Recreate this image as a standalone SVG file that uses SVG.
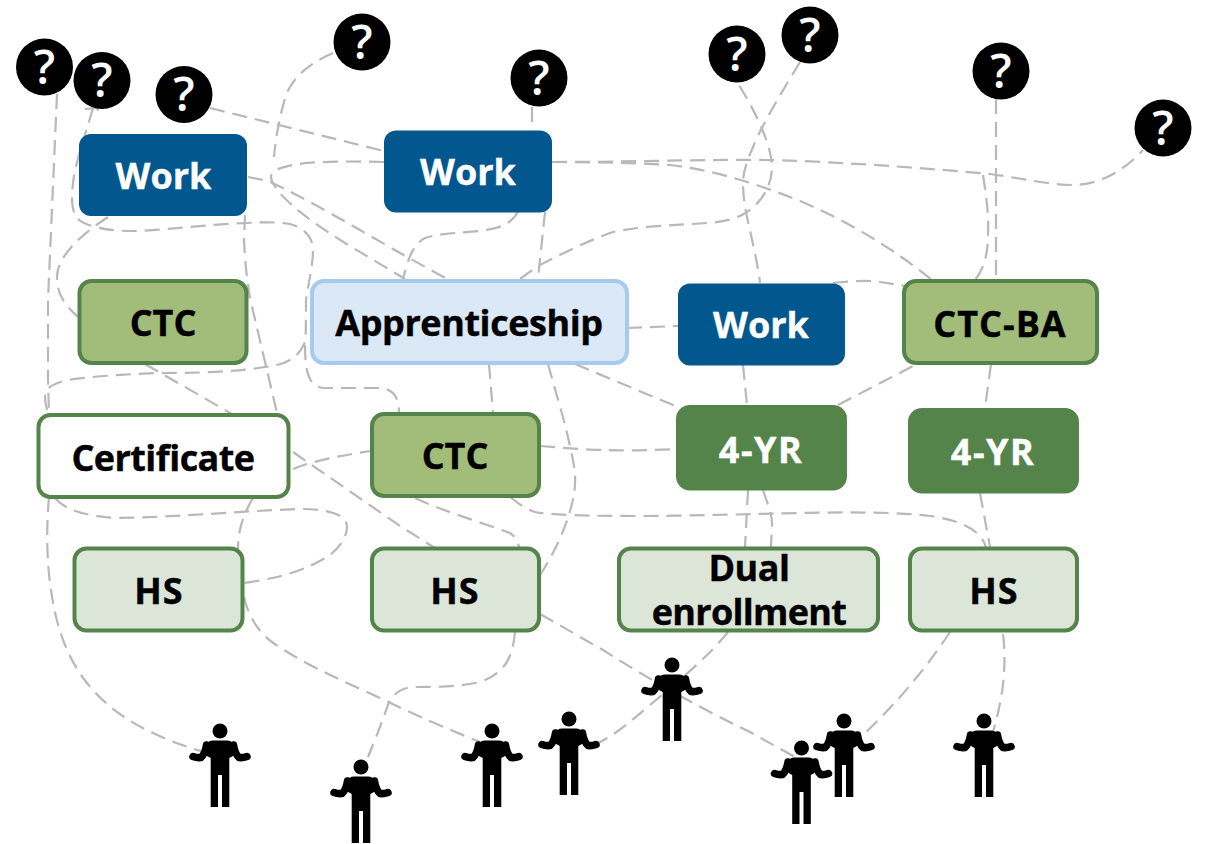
<svg xmlns="http://www.w3.org/2000/svg" width="1205" height="844" viewBox="0 0 1205 844">
<style>
.c{fill:none;stroke:#b8b8b8;stroke-width:2.2;stroke-dasharray:15 8}
.t{font-family:"Open Sans","Noto Sans",sans-serif;font-weight:700;font-size:36px;text-anchor:middle;fill:#000;stroke:#000;stroke-width:.4}
.w{fill:#fff;stroke:#fff}
.q{font-family:"Open Sans","Noto Sans",sans-serif;font-weight:600;font-size:47px;text-anchor:middle;fill:#fff}
.blue{fill:#02578e}
.dk{fill:#55844a}
.mid{fill:#a2bd7a;stroke:#55844a;stroke-width:4}
.lt{fill:#dbe6d8;stroke:#55844a;stroke-width:4}
.wh{fill:#fff;stroke:#55844a;stroke-width:4}
.ap{fill:#dbe8f6;stroke:#a6cbee;stroke-width:4}
</style>
<defs>
<g id="qm"><circle r="28.5" fill="#000"/><text class="q" y="16.5">?</text></g>
<g id="person">
<circle r="7.5" cy="0" fill="#000"/>
<path d="M-9.3,76V42H-2V76H-9.3M2,76V42H9.3V76H2M-9.3,44V27L-13,25Q-16,20-14,14Q-12,9.5-7,9.5H7Q12,9.5 14,14Q16,20 13,25L9.3,27V44Z" fill="#000"/>
<path d="M-13.5,14Q-15,23-19,26.5Q-23,27-27,25.5M13.5,14Q15,23 19,26.5Q23,27 27,25.5" fill="none" stroke="#000" stroke-width="7.5" stroke-linecap="round"/>
</g>
</defs>
<g id="connectors">
<path class="c" d="M57,94L48,300V380L49,414"/>
<path class="c" d="M49,497C46,530 47,565 51,590C62,670 100,722 204,752"/>
<path class="c" d="M93,108C84,140 72,170 72,197C72,212 76,220 84,223C100,230 118,231 133,231C170,230 210,224 247,223C265,222 278,222 290,224C305,228 313,238 313,250C313,265 309,280 306,300C306,320 306,335 305,342C300,355 290,362 277,365C240,372 200,373 160,373C130,374 95,376 67,380C52,384 45,388 45,397C45,404 47,410 49,415"/>
<path class="c" d="M305,345C305,370 308,388 325,388H377C392,388 399,395 399,413"/>
<path class="c" d="M85,109L97,108L100,114"/>
<path class="c" d="M108,217C85,232 57,255 57,277C57,295 65,305 78,317"/>
<path class="c" d="M333,53C305,65 292,80 286,95C280,115 276,135 274,157"/>
<path class="c" d="M210,108L384,151"/>
<path class="c" d="M384,162C340,161 275,160 271,176C271,190 300,215 345,243C365,255 385,267 405,279"/>
<path class="c" d="M248,177L268,181C300,195 360,230 400,253L447,279"/>
<path class="c" d="M532,107V130"/>
<path class="c" d="M518,212C510,225 500,228 480,231C460,233 440,233 425,238C412,245 408,260 403,279"/>
<path class="c" d="M545,212L538,279"/>
<path class="c" d="M520,279L538,266C565,252 590,240 613,232C640,226 680,225 707,223C725,222 738,218 747,212C762,202 772,185 772,167C772,148 758,115 737,82"/>
<path class="c" d="M800,62C780,95 762,125 753,147C745,165 743,175 743,183C743,195 745,208 747,217C752,240 758,265 760,283"/>
<path class="c" d="M552,162C650,162 730,158 800,161C870,164 935,169 990,174C1020,178 1050,185 1073,185C1100,185 1125,170 1143,150"/>
<path class="c" d="M552,162C590,162 640,163 670,165C715,170 760,185 800,201C850,222 895,250 932,280"/>
<path class="c" d="M996,99V280"/>
<path class="c" d="M983,175C986,195 989,215 988,233C988,252 985,268 975,280"/>
<path class="c" d="M833,283C850,281 870,280 880,282L905,286"/>
<path class="c" d="M627,328L678,326"/>
<path class="c" d="M489,364L493,413"/>
<path class="c" d="M548,364C555,390 562,412 567,433C572,455 576,470 575,483C575,505 560,545 540,575"/>
<path class="c" d="M575,364L680,408"/>
<path class="c" d="M743,365L747,405"/>
<path class="c" d="M540,446C565,448 590,450 607,450C630,451 655,450 676,449"/>
<path class="c" d="M838,405L915,365"/>
<path class="c" d="M748,490L745,547"/>
<path class="c" d="M763,490C768,505 772,515 772,523L771,547"/>
<path class="c" d="M510,497C520,505 528,510 535,512C550,515 590,516 633,516C690,516 750,514 800,513C850,512 900,512 930,516C960,520 982,530 986,548"/>
<path class="c" d="M991,364L985,408"/>
<path class="c" d="M980,493L990,547"/>
<path class="c" d="M145,364L232,414"/>
<path class="c" d="M293,452L400,526L435,548"/>
<path class="c" d="M245,215L244,240C245,262 247,280 250,298L277,413"/>
<path class="c" d="M293,469C315,460 345,455 370,451"/>
<path class="c" d="M55,498C65,510 85,516 117,518C180,517 240,511 300,509C330,509 347,515 347,527C347,540 335,552 327,557C305,570 285,577 244,583"/>
<path class="c" d="M253,498C243,515 238,530 238,549"/>
<path class="c" d="M415,498C440,510 480,522 510,533C516,537 518,542 519,547"/>
<path class="c" d="M244,597C248,615 258,632 272,642C300,662 340,680 380,698C415,715 450,730 480,742"/>
<path class="c" d="M515,632C513,650 510,672 480,682C460,687 435,687 413,687C400,688 392,695 388,705C382,722 375,740 368,757"/>
<path class="c" d="M540,614C565,628 585,640 603,650C650,680 700,708 750,732L795,757"/>
<path class="c" d="M728,632C710,655 680,680 650,705C630,722 615,735 598,743"/>
<path class="c" d="M950,632C925,670 895,705 862,736"/>
<path class="c" d="M1003,634C1005,650 1005,665 1003,685C1001,700 998,715 993,732"/>
</g>
<g id="q1"><use href="#qm" x="44.5" y="67"/></g>
<g id="q2"><use href="#qm" x="102" y="80.5"/></g>
<g id="q3"><use href="#qm" x="184" y="94.5"/></g>
<g id="q4"><use href="#qm" x="362" y="42"/></g>
<g id="q5"><use href="#qm" x="539" y="78"/></g>
<g id="q6"><use href="#qm" x="737" y="54"/></g>
<g id="q7"><use href="#qm" x="810" y="35"/></g>
<g id="q8"><use href="#qm" x="1001" y="71"/></g>
<g id="q9"><use href="#qm" x="1163" y="128"/></g>
<g id="work1"><rect class="blue" x="79" y="134" width="168" height="82" rx="12"/><text class="t w" x="163.5" y="189">Work</text></g>
<g id="work2"><rect class="blue" x="384" y="130.5" width="168" height="82" rx="12"/><text class="t w" x="468" y="185">Work</text></g>
<g id="work3"><rect class="blue" x="678" y="283.5" width="167" height="82" rx="12"/><text class="t w" x="761" y="338">Work</text></g>
<g id="ctc1"><rect class="mid" x="79.5" y="281" width="167" height="82" rx="12"/><text class="t" x="163" y="336">CTC</text></g>
<g id="apprenticeship"><rect class="ap" x="312" y="281" width="315" height="82" rx="12"/><text class="t" x="469" y="336" letter-spacing="-.43">Apprenticeship</text></g>
<g id="ctcba"><rect class="mid" x="904" y="281" width="193" height="82" rx="12"/><text class="t" x="1000" y="337" letter-spacing="1">CTC-BA</text></g>
<g id="certificate"><rect class="wh" x="38.5" y="415" width="250" height="82" rx="12"/><text class="t" x="163" y="471" letter-spacing="-.55">Certificate</text></g>
<g id="ctc2"><rect class="mid" x="372" y="414" width="167" height="82" rx="12"/><text class="t" x="455" y="469">CTC</text></g>
<g id="yr1"><rect class="dk" x="676" y="405" width="171" height="85.5" rx="14"/><text class="t w" x="761" y="463" letter-spacing="1.5">4-YR</text></g>
<g id="yr2"><rect class="dk" x="908" y="408" width="171" height="85.5" rx="14"/><text class="t w" x="993" y="465" letter-spacing="1.5">4-YR</text></g>
<g id="hs1"><rect class="lt" x="74.5" y="548.5" width="168" height="82" rx="12"/><text class="t" x="159" y="604" letter-spacing="1">HS</text></g>
<g id="hs2"><rect class="lt" x="372" y="548.5" width="167" height="82" rx="12"/><text class="t" x="455" y="604" letter-spacing="1">HS</text></g>
<g id="dual"><rect class="lt" x="619" y="548.5" width="259" height="82" rx="12"/><text class="t" x="749" y="581" letter-spacing="-.5">Dual</text><text class="t" x="749" y="625" letter-spacing="-.7">enrollment</text></g>
<g id="hs3"><rect class="lt" x="910" y="548.5" width="167" height="82" rx="12"/><text class="t" x="994" y="604" letter-spacing="1">HS</text></g>
<g id="p1"><use href="#person" x="220" y="731"/></g>
<g id="p2"><use href="#person" x="361" y="767"/></g>
<g id="p3"><use href="#person" x="492" y="731"/></g>
<g id="p4"><use href="#person" x="569" y="719"/></g>
<g id="p5"><use href="#person" x="672" y="665"/></g>
<g id="p6"><use href="#person" x="844" y="721"/></g>
<g id="p7"><use href="#person" x="801.5" y="748"/></g>
<g id="p8"><use href="#person" x="984" y="721"/></g>
</svg>
